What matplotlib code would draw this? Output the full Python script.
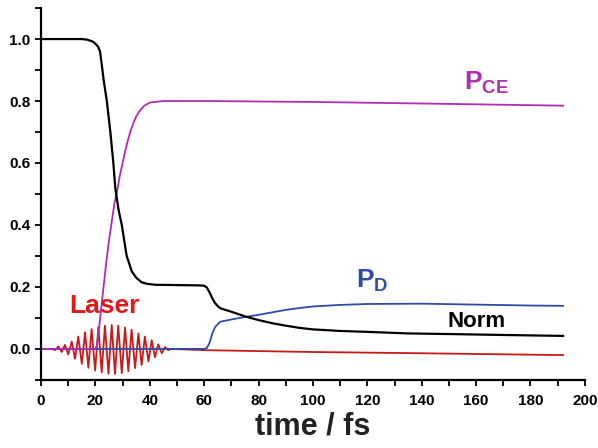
import matplotlib
matplotlib.use("Agg")
import matplotlib.pyplot as plt
from matplotlib.ticker import MultipleLocator

plt.rcParams["font.family"] = ["Liberation Sans", "DejaVu Sans"]
plt.rcParams["mathtext.fontset"] = "custom"
plt.rcParams["mathtext.bf"] = "Liberation Sans:bold"
plt.rcParams["mathtext.rm"] = "Liberation Sans"

# Norm (black)
norm_t = [0, 15, 17, 19, 20, 21, 21.7, 22.3, 23, 24.2, 25.5, 26.6, 27.3, 28.5, 29.7,
          31.5, 33.4, 35, 37, 39, 42, 50, 58, 60, 61, 62, 63, 64, 65, 66, 70, 75,
          80, 85, 90, 95, 100, 110, 120, 135, 150, 170, 192]
norm_v = [1.0, 1.0, 0.998, 0.992, 0.985, 0.975, 0.96, 0.92, 0.87, 0.8, 0.7, 0.6, 0.52,
          0.45, 0.4, 0.3, 0.25, 0.23, 0.215, 0.21, 0.207, 0.206, 0.205, 0.204, 0.198,
          0.182, 0.163, 0.148, 0.138, 0.131, 0.12, 0.105, 0.093, 0.083, 0.075, 0.068,
          0.063, 0.058, 0.055, 0.05, 0.048, 0.045, 0.042]

# P_CE (magenta)
pce_t = [0, 20, 20.5, 21, 22, 23, 24, 25, 26, 27, 28, 29, 30, 31, 32, 33, 34, 35, 36,
         38, 40, 45, 60, 100, 140, 192]
pce_v = [0.0, 0.0, 0.01, 0.04, 0.12, 0.2, 0.28, 0.35, 0.41, 0.47, 0.51, 0.56, 0.6,
         0.64, 0.675, 0.705, 0.73, 0.75, 0.765, 0.785, 0.795, 0.8, 0.8, 0.797, 0.792, 0.785]

# P_D (blue)
pd_t = [0, 60, 61, 62, 63, 64, 65, 66, 70, 75, 80, 85, 90, 95, 100, 110, 120, 140,
        160, 180, 192]
pd_v = [0.0, 0.0, 0.003, 0.02, 0.05, 0.07, 0.08, 0.088, 0.095, 0.103, 0.11, 0.118,
        0.126, 0.132, 0.137, 0.142, 0.145, 0.146, 0.143, 0.14, 0.139]

# Laser field (red), extremes of the oscillation then the tail
laser_t = [0, 4, 5.2, 6.4, 7.6, 8.8, 10.0, 11.3, 12.5, 13.7, 15.0, 16.2, 17.4, 18.6,
           19.9, 21.1, 22.3, 23.5, 24.8, 26.0, 27.2, 28.4, 29.7, 30.9, 32.1, 33.3,
           34.6, 35.8, 37.0, 38.2, 39.5, 40.7, 41.9, 43.1, 44.4, 45.6, 46.8, 48,
           60, 80, 100, 140, 192]
laser_v = [0.0, 0.0, -0.004, 0.008, -0.010, 0.013, -0.018, 0.024, -0.032, 0.040,
           -0.048, 0.054, -0.061, 0.064, -0.070, 0.071, -0.076, 0.075, -0.080, 0.077,
           -0.081, 0.075, -0.078, 0.069, -0.072, 0.062, -0.062, 0.050, -0.052, 0.040,
           -0.040, 0.028, -0.027, 0.015, -0.014, 0.006, -0.004, 0.0,
           -0.004, -0.007, -0.01, -0.014, -0.02]

fig = plt.figure(figsize=(5.98, 4.48), dpi=100)
ax = fig.add_axes([0.0686, 0.152, 0.9094, 0.83])

ax.plot(laser_t, laser_v, color="#c81a1a", lw=1.3)
ax.plot(pd_t, pd_v, color="#2f4aa8", lw=1.3)
ax.plot(pce_t, pce_v, color="#b02cb0", lw=1.3)
ax.plot(norm_t, norm_v, color="black", lw=1.6)

ax.set_xlim(0, 200)
ax.set_ylim(-0.1, 1.1)
ax.xaxis.set_major_locator(MultipleLocator(20))
ax.xaxis.set_minor_locator(MultipleLocator(10))
ax.yaxis.set_minor_locator(MultipleLocator(0.1))
ax.set_yticks([0.0, 0.2, 0.4, 0.6, 0.8, 1.0])
ax.set_yticklabels(["0.0", "0.2", "0.4", "0.6", "0.8", "1.0"])

for s in ["top", "right"]:
    ax.spines[s].set_visible(False)
for s in ["left", "bottom"]:
    ax.spines[s].set_linewidth(1.6)

ax.tick_params(which="both", direction="out", width=1.3, length=4.5)
ax.tick_params(axis="x", pad=6, labelsize=11)
ax.tick_params(axis="y", pad=3, labelsize=11)
for lab in ax.get_xticklabels() + ax.get_yticklabels():
    lab.set_fontweight("bold")

ax.set_xlabel("time / fs", fontsize=22, fontweight="bold", color="#222222", labelpad=2)

ax.text(23.5, 0.139, "Laser", color="#e01818", fontsize=19, fontweight="bold",
        ha="center", va="center")
ax.text(160, 0.088, "Norm", color="black", fontsize=16, fontweight="bold",
        ha="center", va="center")
ax.text(155.5, 0.86, r"$\mathbf{P_{CE}}$", color="#b02cb0", fontsize=19,
        ha="left", va="center")
ax.text(116, 0.22, r"$\mathbf{P_{D}}$", color="#2f4aa8", fontsize=19,
        ha="left", va="center")

fig.savefig("out.png", dpi=100)
